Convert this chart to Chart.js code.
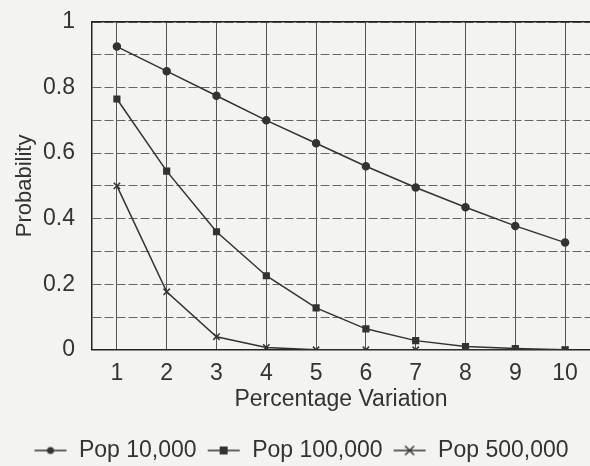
<!DOCTYPE html>
<html>
<head>
<meta charset="utf-8">
<script src="https://cdn.jsdelivr.net/npm/chart.js@4"></script>
<style>
  html, body { margin: 0; padding: 0; background: #f3f3f1; }
  #wrap { width: 590px; height: 466px; }
</style>
</head>
<body>
<div id="wrap"><canvas id="myChart" width="590" height="466"></canvas></div>
<script>
// data
var categories = ['1', '2', '3', '4', '5', '6', '7', '8', '9', '10'];
var seriesNames = ['Pop 10,000', 'Pop 100,000', 'Pop 500,000'];
var pop10k = [0.925, 0.85, 0.775, 0.70, 0.63, 0.56, 0.495, 0.435, 0.378, 0.327];
var pop100k = [0.765, 0.545, 0.36, 0.226, 0.128, 0.064, 0.028, 0.01, 0.004, 0.0];
var pop500k = [0.50, 0.177, 0.04, 0.007, 0.0, 0.0, 0.0, 0.0, 0.0, 0.0];
var yTickLabels = ['0', '0.2', '0.4', '0.6', '0.8', '1'];

var ink = '#333';
var fontFam = 'Liberation Sans, Arial';
var markers = ['circle', 'rect', 'crossRot'];
var markerSize = [3.5, 4, 4.5];

// little "line through marker" swatches for the legend
function swatch(style, r) {
  var c = document.createElement('canvas');
  c.width = 34; c.height = 12;
  var g = c.getContext('2d');
  g.strokeStyle = ink; g.fillStyle = ink; g.lineWidth = 1.5;
  g.beginPath(); g.moveTo(1, 6); g.lineTo(33, 6); g.stroke();
  if (style == 'circle') {
    g.beginPath(); g.arc(17, 6, r, 0, Math.PI * 2); g.fill();
  } else if (style == 'rect') {
    g.fillRect(17 - r, 6 - r, 2 * r, 2 * r);
  } else {
    g.beginPath();
    g.moveTo(17 - r, 6 - r); g.lineTo(17 + r, 6 + r);
    g.moveTo(17 + r, 6 - r); g.lineTo(17 - r, 6 + r);
    g.stroke();
  }
  return c;
}

var allData = [pop10k, pop100k, pop500k];
var datasets = [];
for (var i = 0; i < 3; i++) {
  datasets.push({
    label: seriesNames[i],
    data: allData[i],
    borderColor: ink,
    backgroundColor: ink,
    borderWidth: 1.5,
    pointStyle: markers[i],
    pointRadius: markerSize[i],
    pointBorderWidth: 1.5,
    fill: false,
    tension: 0
  });
}

new Chart('myChart', {
  type: 'line',
  data: { labels: categories, datasets: datasets },
  options: {
    responsive: false,
    animation: false,
    layout: { autoPadding: false, padding: { top: 22, right: 0, left: 12, bottom: -6 } },
    plugins: {
      tooltip: { enabled: false },
      legend: {
        position: 'bottom',
        labels: {
          usePointStyle: true,
          pointStyleWidth: 34,
          padding: 10,
          color: ink,
          font: { family: fontFam, size: 23 },
          generateLabels: function(chart) {
            return chart.data.datasets.map(function(ds, k) {
              return {
                text: ds.label,
                pointStyle: swatch(markers[k], markerSize[k]),
                fontColor: ink,
                strokeStyle: ink,
                fillStyle: ink,
                lineWidth: 0,
                datasetIndex: k
              };
            });
          }
        }
      }
    },
    scales: {
      x: {
        offset: true,
        afterFit: function(s) { s.paddingLeft = 0; s.paddingRight = 0; },
        grid: { color: '#555', lineWidth: 1, offset: false, drawTicks: false },
        border: { color: '#222', width: 1.5 },
        ticks: { color: ink, padding: 10, font: { family: fontFam, size: 23 } },
        title: { display: true, text: 'Percentage Variation', color: ink, padding: { top: -12, bottom: 16 },
                 font: { family: fontFam, size: 23 } }
      },
      xTop: {
        position: 'top',
        offset: true,
        afterFit: function(s) { s.height = 0; s.paddingLeft = 0; s.paddingRight = 0; },
        grid: { display: false, drawTicks: false },
        border: { color: '#222', width: 1.5 },
        ticks: { display: false }
      },
      y: {
        min: 0, max: 1,
        afterFit: function(s) { s.width = 80; s.paddingTop = 0; s.paddingBottom = 0; },
        grid: { color: '#666', lineWidth: 1, drawTicks: false },
        border: { color: '#222', width: 1.5, dash: [9, 3] },
        ticks: {
          stepSize: 0.1,
          autoSkip: false,
          color: ink,
          padding: 17,
          font: { family: fontFam, size: 23 },
          callback: function(v, idx) {
            return idx % 2 == 0 ? yTickLabels[idx / 2] : '';
          }
        },
        title: { display: true, text: 'Probability', color: ink, padding: { top: 0, bottom: 0 },
                 font: { family: fontFam, size: 22 } }
      }
    }
  }
});
</script>
</body>
</html>
